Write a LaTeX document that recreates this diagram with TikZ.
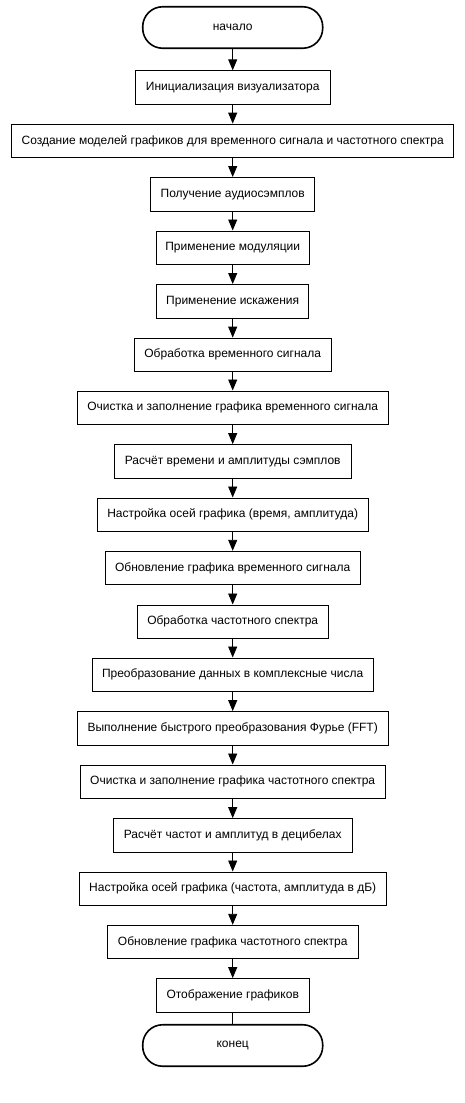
\documentclass[tikz,border=0pt]{standalone}
\usepackage{fontspec}
\setmainfont{Liberation Sans}
\usetikzlibrary{arrows.meta}
\begin{document}
\begin{tikzpicture}[x=1pt,y=-1pt,
  box/.style={draw, line width=0.9pt, minimum height=33.5pt, inner sep=0pt, font=\fontsize{12}{14}\selectfont},
  term/.style={draw, line width=1.6pt, rounded corners=20pt, minimum width=180pt, minimum height=41.5pt, inner sep=0pt, font=\fontsize{12}{14}\selectfont},
  arr/.style={line width=0.9pt, -{Triangle[length=11pt,width=9pt]}},
  ln/.style={line width=0.9pt}]
\useasboundingbox (0,0) rectangle (464,1103);
\def\cx{232.7}
\node[term] (s) at (\cx,27.5) {начало};
\node[box, minimum width=195.4pt] (b1) at (\cx,87.5) {Инициализация визуализатора};
\node[box, minimum width=442pt] (b2) at (\cx,140.8) {Создание моделей графиков для временного сигнала и частотного спектра};
\node[box, minimum width=164pt] (b3) at (\cx,194.2) {Получение аудиосэмплов};
\node[box, minimum width=153.4pt] (b4) at (\cx,247.7) {Применение модуляции};
\node[box, minimum width=152pt] (b5) at (\cx,301.2) {Применение искажения};
\node[box, minimum width=196.8pt] (b6) at (\cx,354.8) {Обработка временного сигнала};
\node[box, minimum width=310.8pt] (b7) at (\cx,407.7) {Очистка и заполнение графика временного сигнала};
\node[box, minimum width=236.8pt] (b8) at (\cx,461.3) {Расчёт времени и амплитуды сэмплов};
\node[box, minimum width=270.8pt] (b9) at (\cx,514.7) {Настройка осей графика (время, амплитуда)};
\node[box, minimum width=254.8pt] (b10) at (\cx,568) {Обновление графика временного сигнала};
\node[box, minimum width=190.8pt] (b11) at (\cx,621.7) {Обработка частотного спектра};
\node[box, minimum width=280.8pt] (b12) at (\cx,674.7) {Преобразование данных в комплексные числа};
\node[box, minimum width=310.8pt] (b13) at (\cx,728.3) {Выполнение быстрого преобразования Фурье (FFT)};
\node[box, minimum width=304.8pt] (b14) at (\cx,781.7) {Очистка и заполнение графика частотного спектра};
\node[box, minimum width=238.8pt] (b15) at (\cx,835.3) {Расчёт частот и амплитуд в децибелах};
\node[box, minimum width=306.8pt] (b16) at (\cx,888.7) {Настройка осей графика (частота, амплитуда в дБ)};
\node[box, minimum width=250.8pt] (b17) at (\cx,942) {Обновление графика частотного спектра};
\node[box, minimum width=152.8pt] (b18) at (\cx,995.3) {Отображение графиков};
\node[term] (e) at (\cx,1045.5) {конец};
\draw[arr] (s) -- (b1);
\foreach \a/\b in {b1/b2,b2/b3,b3/b4,b4/b5,b5/b6,b6/b7,b7/b8,b8/b9,b9/b10,b10/b11,b11/b12,b12/b13,b13/b14,b14/b15,b15/b16,b16/b17,b17/b18}
  \draw[arr] (\a) -- (\b);
\draw[ln] (b18) -- (e);
\end{tikzpicture}
\end{document}
